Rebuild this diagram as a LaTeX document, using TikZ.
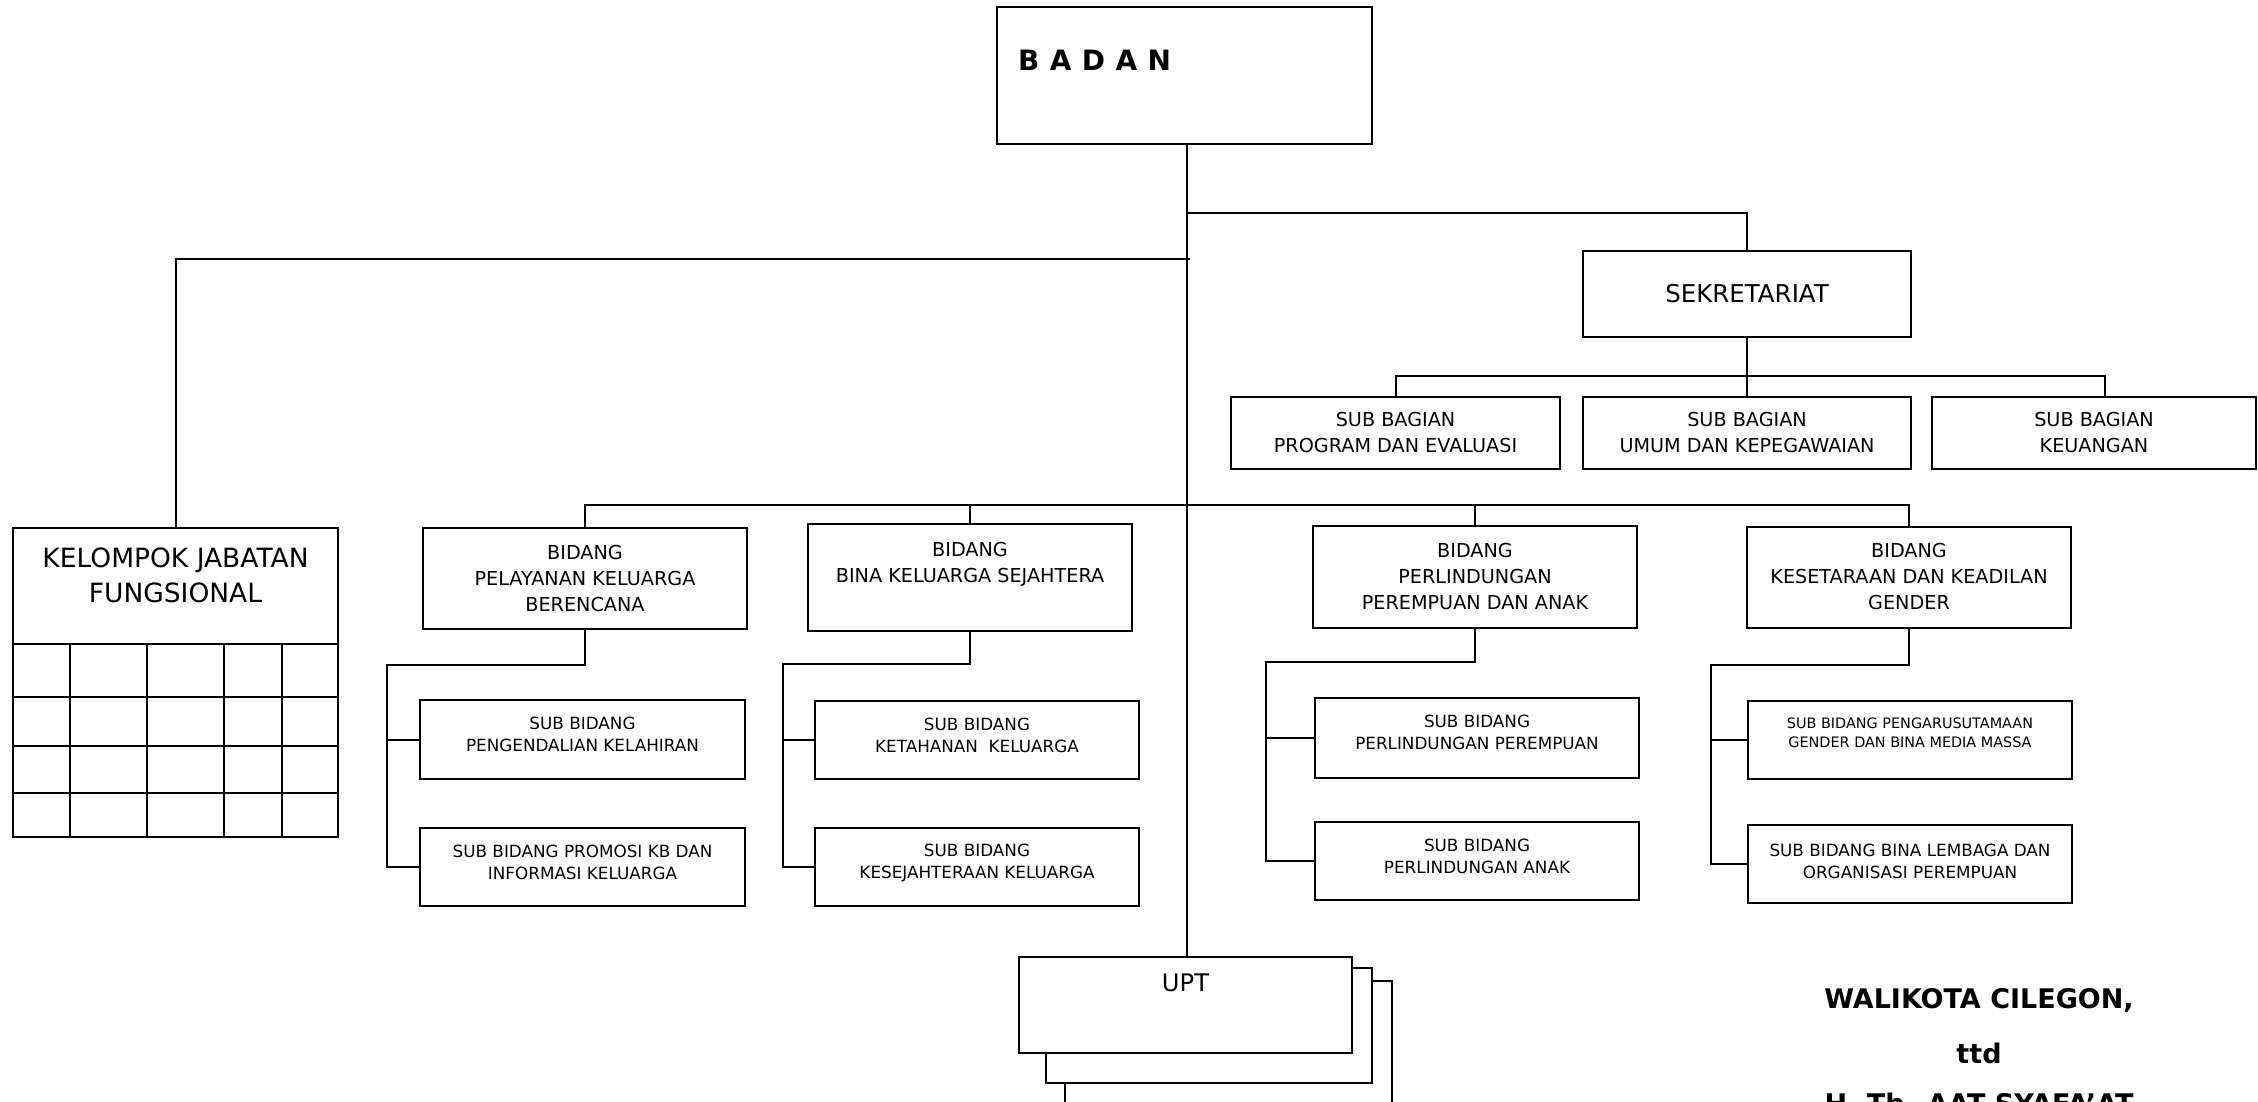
\documentclass[tikz,border=0pt]{standalone}
\usepackage{fontspec}
\setmainfont{DejaVu Sans}
\newcommand\fs[2]{\fontsize{#1}{#2}\selectfont}
\begin{document}
\begin{tikzpicture}[x=1pt,y=-1pt,
  box/.style={draw, line width=2pt, inner sep=0pt, outer sep=0pt, anchor=north west, fill=white, align=center},
  frame/.style={draw, line width=2pt, fill=white},
  conn/.style={line width=2pt},
  lab/.style={anchor=north, align=center, inner sep=0pt},
  bid/.style={font=\fs{19.2}{26}},
  sbf/.style={font=\fs{16.8}{22}},
]
\useasboundingbox (0,0) rectangle (2258,1101);

% top
\node[box, minimum width=375pt, minimum height=137pt,
  label={[anchor=west, inner sep=0pt, xshift=21pt, yshift=15pt, font=\fs{28}{32}\bfseries]west:{B\hspace{0.37em}A\hspace{0.37em}D\hspace{0.37em}A\hspace{0.37em}N}}] (badan) at (997,7) {};

% sekretariat
\node[box, minimum width=328pt, minimum height=86pt, font=\fs{24.5}{30}] (sek) at (1583,251) {SEKRETARIAT};
\node[box, minimum width=329pt, minimum height=72pt, bid] (prog) at (1231,397) {SUB BAGIAN\\PROGRAM DAN EVALUASI};
\node[box, minimum width=328pt, minimum height=72pt, bid] (umum) at (1583,397) {SUB BAGIAN\\UMUM DAN KEPEGAWAIAN};
\node[box, minimum width=324pt, minimum height=72pt, bid] (keu) at (1932,397) {SUB BAGIAN\\KEUANGAN};

% kelompok jabatan fungsional
\node[box, minimum width=325pt, minimum height=309pt,
  label={[lab, font=\fs{26.5}{35}, yshift=-20pt]north:{KELOMPOK JABATAN\\FUNGSIONAL}}] (kjf) at (13,528) {};
\foreach \yy in {644,697,746,793} \draw[conn] (13,\yy) -- (338,\yy);
\foreach \xx in {70,147,224,282} \draw[conn] (\xx,644) -- (\xx,837);

% bidang
\node[box, minimum width=324pt, minimum height=101pt,
  label={[lab, bid, yshift=-17pt]north:{BIDANG\\PELAYANAN KELUARGA\\BERENCANA}}] (pel) at (423,528) {};
\node[box, minimum width=324pt, minimum height=107pt,
  label={[lab, bid, yshift=-18pt]north:{BIDANG\\BINA KELUARGA SEJAHTERA}}] (bkl) at (808,524) {};
\node[box, minimum width=324pt, minimum height=102pt,
  label={[lab, bid, yshift=-17pt]north:{BIDANG\\PERLINDUNGAN\\PEREMPUAN DAN ANAK}}] (ppa) at (1313,526) {};
\node[box, minimum width=324pt, minimum height=101pt,
  label={[lab, bid, yshift=-16pt]north:{BIDANG\\KESETARAAN DAN KEADILAN\\GENDER}}] (kes) at (1747,527) {};

% sub bidang
\node[box, minimum width=325pt, minimum height=79pt,
  label={[lab, sbf, yshift=-17pt]north:{SUB BIDANG\\PENGENDALIAN KELAHIRAN}}] (pk) at (420,700) {};
\node[box, minimum width=325pt, minimum height=78pt,
  label={[lab, sbf, yshift=-17pt]north:{SUB BIDANG PROMOSI KB DAN\\INFORMASI KELUARGA}}] (pi) at (420,828) {};
\node[box, minimum width=324pt, minimum height=78pt,
  label={[lab, sbf, yshift=-17pt]north:{SUB BIDANG\\KETAHANAN\ \ KELUARGA}}] (kt) at (815,701) {};
\node[box, minimum width=324pt, minimum height=78pt,
  label={[lab, sbf, yshift=-16pt]north:{SUB BIDANG\\KESEJAHTERAAN KELUARGA}}] (ks) at (815,828) {};
\node[box, minimum width=324pt, minimum height=80pt,
  label={[lab, sbf, yshift=-17pt]north:{SUB BIDANG\\PERLINDUNGAN PEREMPUAN}}] (pp) at (1315,698) {};
\node[box, minimum width=324pt, minimum height=78pt,
  label={[lab, sbf, yshift=-17pt]north:{SUB BIDANG\\PERLINDUNGAN ANAK}}] (pa) at (1315,822) {};
\node[box, minimum width=324pt, minimum height=78pt,
  label={[lab, font=\fs{14.4}{19}, yshift=-17pt]north:{SUB BIDANG PENGARUSUTAMAAN\\GENDER DAN BINA MEDIA MASSA}}] (pg) at (1748,701) {};
\node[box, minimum width=324pt, minimum height=78pt,
  label={[lab, sbf, yshift=-19pt]north:{SUB BIDANG BINA LEMBAGA DAN\\ORGANISASI PEREMPUAN}}] (bl) at (1748,825) {};

% UPT stack
\draw[frame] (1065,981) rectangle (1392,1140);
\draw[frame] (1046,968) rectangle (1372,1083);
\node[box, minimum width=333pt, minimum height=96pt,
  label={[lab, font=\fs{24.2}{30}, yshift=-17pt]north:{UPT}}] (upt) at (1019,957) {};

% signature
\node[font=\fs{27}{32}\bfseries, inner sep=0pt] (sig1) at (1979,1000) {WALIKOTA CILEGON,};
\node[font=\fs{27}{32}\bfseries, inner sep=0pt] (sig2) at (1979,1053) {ttd};
\node[font=\fs{27}{32}\bfseries, inner sep=0pt] (sig3) at (1979,1103) {H. Tb. AAT SYAFA'AT};

% connectors
\coordinate (spine) at (1187,0);
\coordinate (j1) at (1187,213);
\coordinate (j2) at (1190,259);
\coordinate (j3) at (1187,505);
\coordinate (j4) at (1747,376);
\coordinate (keudrop) at (2105,397);
\draw[conn] (badan.south -| spine) -- (upt.north -| spine);
\draw[conn] (j1) -| (sek.north);
\draw[conn] (j2) -| (kjf.north);
\draw[conn] (sek.south) -- (j4);
\draw[conn] (prog.north) |- (j4) -| (keudrop);
\draw[conn] (umum.north) -- (j4);
\draw[conn] (pel.north) |- (j3) -| (kes.north);
\draw[conn] (bkl.north) -- (bkl.north |- j3);
\draw[conn] (ppa.north) -- (ppa.north |- j3);

\coordinate (b1) at (387,665);
\coordinate (b2) at (783,664);
\coordinate (b3) at (1266,662);
\coordinate (b4) at (1711,665);
\draw[conn] (pel.south) |- (b1) |- (pk.west);
\draw[conn] (b1) |- (pi.west);
\draw[conn] (bkl.south) |- (b2) |- (kt.west);
\draw[conn] (b2) |- (ks.west);
\draw[conn] (ppa.south) |- (b3) |- (pp.west);
\draw[conn] (b3) |- (pa.west);
\draw[conn] (kes.south) |- (b4) |- (pg.west);
\draw[conn] (b4) |- (bl.west);
\end{tikzpicture}
\end{document}
